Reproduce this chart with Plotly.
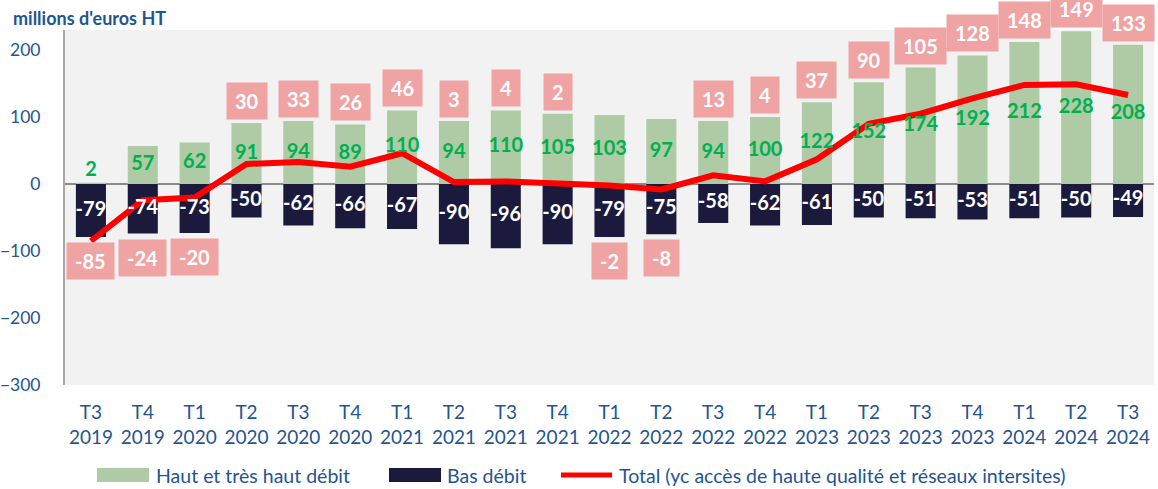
import plotly.graph_objects as go

categories = ["T3<br>2019", "T4<br>2019", "T1<br>2020", "T2<br>2020", "T3<br>2020", "T4<br>2020",
              "T1<br>2021", "T2<br>2021", "T3<br>2021", "T4<br>2021", "T1<br>2022", "T2<br>2022",
              "T3<br>2022", "T4<br>2022", "T1<br>2023", "T2<br>2023", "T3<br>2023", "T4<br>2023",
              "T1<br>2024", "T2<br>2024", "T3<br>2024"]
haut_debit = [2, 57, 62, 91, 94, 89, 110, 94, 110, 105, 103, 97, 94, 100, 122, 152, 174, 192, 212, 228, 208]
bas_debit = [-79, -74, -73, -50, -62, -66, -67, -90, -96, -90, -79, -75, -58, -62, -61, -50, -51, -53, -51, -50, -49]
total = [-85, -24, -20, 30, 33, 26, 46, 3, 4, 2, -2, -8, 13, 4, 37, 90, 105, 128, 148, 149, 133]
series_names = ["Haut et très haut débit", "Bas débit",
                "Total (yc accès de haute qualité et réseaux intersites)"]

GREEN = "#AECBA5"
DARK = "#1B1A3D"
RED = "#FF0000"
PINK = "#F0A3A3"
BLUE = "#1F5591"
FONT = "Lato"

W, H = 1158, 489
ML, MR, MT, MB = 65, 4, 30, 104
PW, PH = W - ML - MR, H - MT - MB


def px(x):
    return (x - ML) / PW


def py(y):
    return (H - MB - y) / PH


fig = go.Figure()
fig.add_trace(go.Bar(x=categories, y=haut_debit, name=series_names[0],
                     marker=dict(color=GREEN, line=dict(width=0)), hoverinfo="skip"))
fig.add_trace(go.Bar(x=categories, y=bas_debit, name=series_names[1],
                     marker=dict(color=DARK, line=dict(width=0)), hoverinfo="skip"))
fig.add_trace(go.Scatter(x=categories, y=total, mode="lines", name=series_names[2],
                         line=dict(color=RED, width=6), hoverinfo="skip", cliponaxis=False))

# value labels of bars
fig.add_trace(go.Scatter(x=categories, y=[max(v / 2, 20) for v in haut_debit], mode="text",
                         text=[str(v) for v in haut_debit],
                         textfont=dict(family=FONT, size=20, color="#00B050", weight="bold"),
                         showlegend=False, hoverinfo="skip", cliponaxis=False))
fig.add_trace(go.Scatter(x=categories, y=[v / 2 for v in bas_debit], mode="text",
                         text=[str(v) for v in bas_debit],
                         textfont=dict(family=FONT, size=20, color="white", weight="bold"),
                         showlegend=False, hoverinfo="skip", cliponaxis=False))

# total labels (pink boxes)
for c, h, b, t in zip(categories, haut_debit, bas_debit, total):
    if t >= 0:
        fig.add_annotation(x=c, y=h, text=str(t), showarrow=False, yanchor="bottom", yshift=3,
                           bgcolor=PINK, borderpad=8, height=20,
                           font=dict(family=FONT, size=20, color="white", weight="bold"))
    else:
        fig.add_annotation(x=c, y=b, text=str(t), showarrow=False, yanchor="top", yshift=-5,
                           bgcolor=PINK, borderpad=8, height=20,
                           font=dict(family=FONT, size=20, color="white", weight="bold"))

# unit title
fig.add_annotation(text="millions d'euros HT", xref="paper", yref="paper", x=px(11), y=py(18),
                   xanchor="left", yanchor="middle", showarrow=False,
                   font=dict(family=FONT, size=18, color=BLUE, weight="bold"))

# custom legend
LY = 475
fig.add_shape(type="rect", xref="paper", yref="paper", x0=px(97), x1=px(149), y0=py(482), y1=py(468),
              fillcolor=GREEN, line=dict(width=0))
fig.add_shape(type="rect", xref="paper", yref="paper", x0=px(389), x1=px(441), y0=py(482), y1=py(468),
              fillcolor=DARK, line=dict(width=0))
fig.add_shape(type="line", xref="paper", yref="paper", x0=px(561), x1=px(612), y0=py(LY), y1=py(LY),
              line=dict(color=RED, width=5))
for xt, name in zip([154, 445, 617], series_names):
    fig.add_annotation(text=name, xref="paper", yref="paper", x=px(xt), y=py(LY),
                       xanchor="left", yanchor="middle", showarrow=False,
                       font=dict(family=FONT, size=19.5, color=BLUE))

fig.update_layout(
    width=W, height=H,
    margin=dict(l=ML, r=MR, t=MT, b=MB),
    paper_bgcolor="white", plot_bgcolor="#F2F2F2",
    barmode="relative", bargap=0.42,
    font=dict(family=FONT, color=BLUE),
    showlegend=False,
    xaxis=dict(range=[-0.5, 20.5], showgrid=False, tickfont=dict(family=FONT, size=19, color=BLUE),
               ticks="", ticklabelstandoff=14, showline=False, zeroline=False, automargin=False),
    yaxis=dict(range=[-300, 230], tickvals=[-300, -200, -100, 0, 100, 200], showgrid=False,
               tickfont=dict(family=FONT, size=17.5, color=BLUE), ticks="",
               ticklabelstandoff=19, showline=True, linecolor="#A6A6A6", linewidth=2,
               zeroline=True, zerolinecolor="#8C8C8C", zerolinewidth=2, automargin=False),
)

fig.write_html("out.html", config={"displayModeBar": False},
               post_script="document.body.style.margin='0';document.body.style.overflow='hidden';")
